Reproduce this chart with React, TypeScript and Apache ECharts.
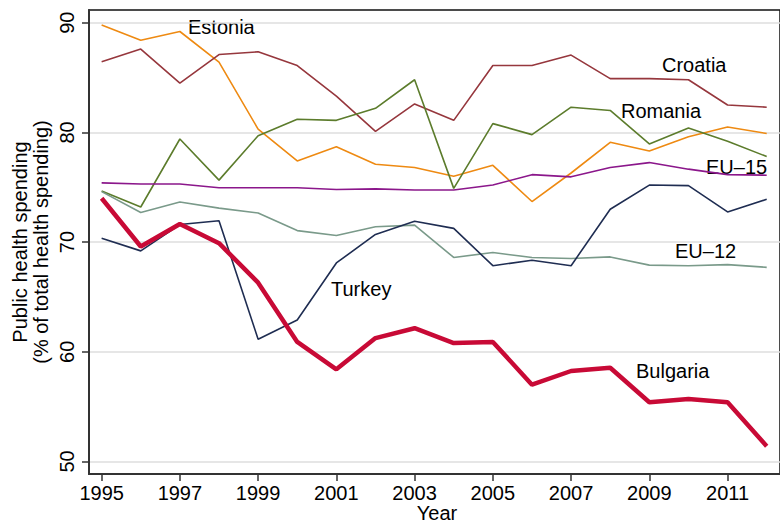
import React, { useEffect, useRef } from "react";
import * as echarts from "echarts";

const years = [1995, 1996, 1997, 1998, 1999, 2000, 2001, 2002, 2003, 2004, 2005, 2006, 2007, 2008, 2009, 2010, 2011, 2012];
const estonia = [89.8, 88.4, 89.2, 86.4, 80.3, 77.4, 78.7, 77.1, 76.8, 76.0, 77.0, 73.7, 76.3, 79.1, 78.3, 79.6, 80.5, 79.9];
const croatia = [86.45, 87.6, 84.5, 87.1, 87.35, 86.1, 83.3, 80.1, 82.6, 81.1, 86.1, 86.1, 87.05, 84.9, 84.9, 84.8, 82.5, 82.3];
const romania = [74.65, 73.2, 79.4, 75.65, 79.7, 81.2, 81.1, 82.2, 84.8, 74.9, 80.8, 79.8, 82.3, 82.0, 78.95, 80.4, 79.2, 77.8];
const eu15 = [75.4, 75.3, 75.3, 74.95, 74.95, 74.95, 74.8, 74.85, 74.75, 74.75, 75.2, 76.15, 75.95, 76.8, 77.25, 76.65, 76.15, 76.1];
const eu12 = [74.6, 72.7, 73.65, 73.1, 72.65, 71.05, 70.6, 71.4, 71.55, 68.6, 69.05, 68.6, 68.5, 68.65, 67.9, 67.85, 67.95, 67.7];
const turkey = [70.35, 69.2, 71.6, 71.95, 61.15, 62.9, 68.1, 70.7, 71.9, 71.25, 67.85, 68.35, 67.85, 73.0, 75.2, 75.15, 72.75, 73.9];
const bulgaria = [74.0, 69.6, 71.65, 69.9, 66.3, 60.9, 58.4, 61.25, 62.15, 60.8, 60.9, 57.0, 58.25, 58.55, 55.4, 55.7, 55.4, 51.4];

const xTicks = [1995, 1997, 1999, 2001, 2003, 2005, 2007, 2009, 2011];
const yTicks = [50, 60, 70, 80, 90];

const FONT = "'Liberation Sans', Arial, Helvetica, sans-serif";
const FS = 20;

const seriesDefs = [
  { name: "Estonia", data: estonia, color: "#ee8a12", width: 1.6 },
  { name: "Croatia", data: croatia, color: "#96373d", width: 1.6 },
  { name: "Romania", data: romania, color: "#5c7c2c", width: 1.6 },
  { name: "EU-15", data: eu15, color: "#8b178b", width: 1.6 },
  { name: "EU-12", data: eu12, color: "#7a9a8a", width: 1.6 },
  { name: "Turkey", data: turkey, color: "#1f2d52", width: 1.6 },
  { name: "Bulgaria", data: bulgaria, color: "#c80a36", width: 4.5 },
];

const labels = [
  { text: "Estonia", x: 188, y: 27 },
  { text: "Croatia", x: 662, y: 65 },
  { text: "Romania", x: 621, y: 111 },
  { text: "EU\u201315", x: 706, y: 167 },
  { text: "EU\u201312", x: 675, y: 251 },
  { text: "Turkey", x: 331, y: 289 },
  { text: "Bulgaria", x: 636, y: 371 },
];

export default function App() {
  const ref = useRef<HTMLDivElement>(null);
  useEffect(() => {
    if (!ref.current) return;
    const chart = echarts.init(ref.current, undefined, { renderer: "svg" });
    chart.setOption({
      animation: false,
      backgroundColor: "#ffffff",
      grid: {
        left: 89,
        top: 10,
        width: 695,
        height: 464,
        show: true,
        borderColor: "#111",
        borderWidth: 1.5,
        backgroundColor: "transparent",
      },
      xAxis: {
        type: "value",
        min: 1994.677,
        max: 2012.34,
        axisLine: { show: true, onZero: false, lineStyle: { color: "#333", width: 2 } },
        axisTick: { show: true, customValues: xTicks, length: 7, lineStyle: { color: "#333", width: 1.5 } },
        axisLabel: {
          customValues: xTicks,
          margin: 9,
          color: "#000",
          fontSize: FS,
          fontFamily: FONT,
          formatter: (v: number) => String(v),
        },
        splitLine: { show: false },
      },
      yAxis: {
        type: "value",
        min: 48.86,
        max: 91.16,
        axisLine: { show: true, onZero: false, lineStyle: { color: "#333", width: 2 } },
        axisTick: { show: true, customValues: yTicks, length: 7, lineStyle: { color: "#333", width: 1.5 } },
        axisLabel: {
          customValues: yTicks,
          rotate: 90,
          margin: 12,
          color: "#000",
          fontSize: FS,
          fontFamily: FONT,
          formatter: (v: number) => String(v),
        },
        splitLine: { show: true, lineStyle: { color: "#dedede", width: 1.5 } },
      },
      series: seriesDefs.map((s) => ({
        type: "line",
        name: s.name,
        data: years.map((y, i) => [y, s.data[i]]),
        showSymbol: false,
        symbol: "none",
        lineStyle: { color: s.color, width: s.width },
        itemStyle: { color: s.color },
      })),
      graphic: [
        ...labels.map((l) => ({
          type: "text",
          x: l.x,
          y: l.y,
          style: {
            text: l.text,
            fill: "#000",
            fontSize: FS,
            fontFamily: FONT,
            textAlign: "left",
            textVerticalAlign: "middle",
          },
        })),
        {
          type: "text",
          x: 20,
          y: 242,
          rotation: Math.PI / 2,
          style: {
            text: "Public health spending",
            fill: "#000",
            fontSize: FS,
            fontFamily: FONT,
            textAlign: "center",
            textVerticalAlign: "middle",
          },
        },
        {
          type: "text",
          x: 41,
          y: 242,
          rotation: Math.PI / 2,
          style: {
            text: "(% of total health spending)",
            fill: "#000",
            fontSize: FS,
            fontFamily: FONT,
            textAlign: "center",
            textVerticalAlign: "middle",
          },
        },
        {
          type: "text",
          x: 437,
          y: 513,
          style: {
            text: "Year",
            fill: "#000",
            fontSize: FS,
            fontFamily: FONT,
            textAlign: "center",
            textVerticalAlign: "middle",
          },
        },
      ],
    });
    return () => chart.dispose();
  }, []);
  return (
    <div
      ref={ref}
      style={{ position: "fixed", left: 0, top: 0, width: 780, height: 523 }}
    />
  );
}
